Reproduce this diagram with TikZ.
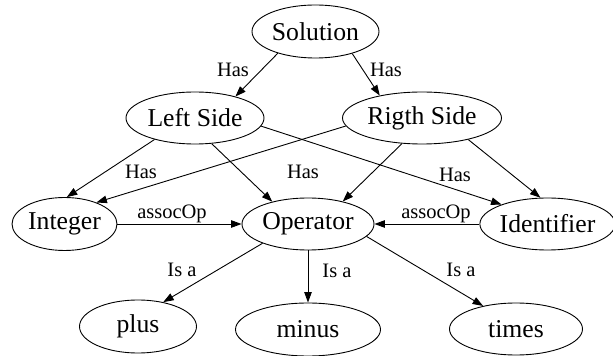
\documentclass[tikz,border=0pt]{standalone}
\usepackage{fontspec}
\setmainfont{Liberation Serif}
\usepackage{tikz}
\usetikzlibrary{shapes.geometric,arrows.meta}

\newcommand{\conceptfont}{\fontsize{25.7}{30}\selectfont}
\newcommand{\relfont}{\fontsize{20.5}{24}\selectfont}

\tikzset{
  concept/.style={ellipse, draw, line width=0.9pt, inner sep=0pt, font=\conceptfont},
  rel/.style={font=\relfont, inner sep=0pt},
  link/.style={-{Triangle[length=10.5pt,width=7.5pt]}, line width=0.9pt}
}

\begin{document}
\begin{tikzpicture}[x=1pt,y=1pt]
      \useasboundingbox (0,0) rectangle (613,356);

      % Top level
      \node[concept, minimum width=127pt, minimum height=53pt] (sol) at (315.5,324.5) {Solution};

      % Sides
      \node[concept, minimum width=138pt, minimum height=52pt] (left) at (195,238) {Left Side};
      \node[concept, minimum width=159pt, minimum height=52pt] (right) at (422,238) {Rigth Side};

      % Middle row
      \node[concept, minimum width=105pt, minimum height=53pt] (int) at (64.5,132) {Integer};
      \node[concept, minimum width=132pt, minimum height=52pt] (op) at (308,132) {Operator};
      \node[concept, minimum width=129pt, minimum height=52pt] (ident) at (547.5,132) {Identifier};

      % Operators
      \node[concept, minimum width=117pt, minimum height=53pt] (plus) at (138,29.5) {plus};
      \node[concept, minimum width=145pt, minimum height=53pt] (minus) at (308,26.5) {minus};
      \node[concept, minimum width=133pt, minimum height=52pt] (times) at (516,27) {times};

      % Has edges
      \draw[link] (sol.210) -- (left.28);
      \draw[link] (sol.329.5) -- (right.152);
      \draw[link] (left.208) -- (int.85);
      \draw[link] (left.303) -- (op.148);
      \draw[link] (left.353) -- (ident.157);
      \draw[link] (right.186.5) -- (int.34);
      \draw[link] (right.232) -- (op.33);
      \draw[link] (right.335) -- (ident.105);

      % assocOp edges
      \draw[link] (int) -- (op);
      \draw[link] (ident) -- (op);

      % Is a edges
      \draw[link] (op.203.5) -- (plus.44);
      \draw[link] (op) -- (minus);
      \draw[link] (op.348) -- (times.145);

      % Labels
      \node[rel] (has1) at (233,286) {Has};
      \node[rel] (has2) at (386,286) {Has};
      \node[rel] (has3) at (141,184) {Has};
      \node[rel] (has4) at (303,184) {Has};
      \node[rel] (has5) at (455,181) {Has};
      \node[rel] (assoc1) at (172,142) {assocOp};
      \node[rel] (assoc2) at (436,142) {assocOp};
      \node[rel] (isa1) at (182,86) {Is a};
      \node[rel] (isa2) at (337,85) {Is a};
      \node[rel] (isa3) at (461,86) {Is a};

\end{tikzpicture}
\end{document}
